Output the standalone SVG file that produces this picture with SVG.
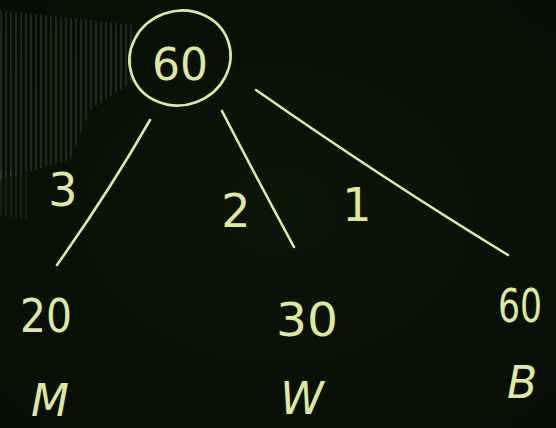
<svg xmlns="http://www.w3.org/2000/svg" width="556" height="428" viewBox="0 0 556 428">
<defs>
<style>
.chalk{fill:none;stroke:#dfe99c;stroke-width:2.6;stroke-linecap:round}
.t{fill:#dfe99c;font-family:"DejaVu Sans","Liberation Sans",sans-serif;text-anchor:middle}
.n{font-size:46px}
.w{font-size:46px}
.l{font-size:44px;font-style:italic}
</style>
<radialGradient id="bg" cx="0.5" cy="0.5" r="0.7">
<stop offset="0" stop-color="#0b1506"/>
<stop offset="1" stop-color="#070d04"/>
</radialGradient>
<pattern id="stripes" width="5" height="10" patternUnits="userSpaceOnUse">
<rect width="2" height="10" fill="#8a9a7a" opacity="0.35"/>
</pattern>
</defs>
<rect width="556" height="428" fill="url(#bg)"/>
<polygon points="0,10 135,25 135,80 90,110 70,160 0,180" fill="url(#stripes)" opacity="0.5"/>
<polygon points="0,170 30,175 30,220 0,215" fill="url(#stripes)" opacity="0.35"/>
<g id="connectors">
<path class="chalk" d="M150,120 Q110,190 57,265"/>
<path class="chalk" d="M222,111 Q255,175 294,247"/>
<path class="chalk" d="M256,90 Q385,180 508,255"/>
</g>
<g id="root">
<ellipse class="chalk" cx="180" cy="58" rx="51" ry="47" transform="rotate(-20 180 58)"/>
<text class="t" x="180" y="80" font-size="44">60</text>
</g>
<g id="labels">
<text class="t w" x="63" y="206" font-size="48">3</text>
<text class="t w" x="236" y="227">2</text>
<text class="t w" x="357" y="221">1</text>
</g>
<g id="nodeM">
<text class="t n" x="46" y="332" textLength="52" lengthAdjust="spacingAndGlyphs">20</text>
<text class="t l" x="50" y="416">M</text>
</g>
<g id="nodeW">
<text class="t n" x="307" y="336" textLength="62" lengthAdjust="spacingAndGlyphs">30</text>
<text class="t l" x="302" y="414">W</text>
</g>
<g id="nodeB">
<text class="t n" x="520" y="322" textLength="44" lengthAdjust="spacingAndGlyphs">60</text>
<text class="t l" x="522" y="398">B</text>
</g>
</svg>
